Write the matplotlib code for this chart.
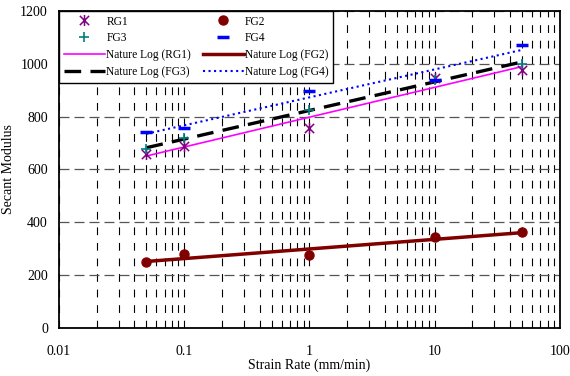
import numpy as np
import matplotlib.pyplot as plt
from matplotlib.path import Path
from matplotlib.ticker import LogLocator, FixedLocator, NullFormatter

plt.rcParams['font.family'] = ['Liberation Serif', 'DejaVu Serif']

# Strain rate (mm/min) and secant modulus for each specimen group
strain_rate = [0.05, 0.1, 1, 10, 50]
rg1 = [660, 690, 758, 947, 978]
fg2 = [248, 279, 275, 343, 363]
fg3 = [678, 717, 823, 940, 1000]
fg4 = [740, 755, 898, 940, 1072]


def log_fit(x, y):
    a, b = np.polyfit(np.log(x), y, 1)
    xs = np.array([min(x), max(x)])
    return xs, a * np.log(xs) + b


# star marker: an x with a vertical stroke through it
star = Path([(-1, -1), (1, 1), (-1, 1), (1, -1), (0, -1.2), (0, 1.2)],
            [Path.MOVETO, Path.LINETO, Path.MOVETO, Path.LINETO, Path.MOVETO, Path.LINETO])

fig, ax = plt.subplots(figsize=(5.7, 3.76), dpi=100)
fig.subplots_adjust(left=0.1035, right=0.982, top=0.971, bottom=0.128)

# markers
h_rg1, = ax.plot(strain_rate, rg1, ls='none', marker=star, color='#800080', mfc='none',
                 ms=8, mew=1.1, label='RG1', zorder=4)
h_fg2, = ax.plot(strain_rate, fg2, 'o', color='#800000', ms=6.5, label='FG2', zorder=4)
h_fg3, = ax.plot(strain_rate, fg3, '+', color='#008080', ms=7, mew=1.2, label='FG3', zorder=4)
h_fg4, = ax.plot(strain_rate, fg4, '_', color='#0000FF', ms=9, mew=2.5, label='FG4', zorder=4)

# logarithmic trend lines
xs, ys = log_fit(strain_rate, rg1)
l_rg1, = ax.plot(xs, ys, '-', color='#FF00FF', lw=1.2, label='Nature Log (RG1)', zorder=3)
xs, ys = log_fit(strain_rate, fg2)
l_fg2, = ax.plot(xs, ys, '-', color='#800000', lw=2.5, label='Nature Log (FG2)', zorder=3)
xs, ys = log_fit(strain_rate, fg3)
l_fg3, = ax.plot(xs, ys, color='black', lw=2.4, dashes=(5, 2.8), label='Nature Log (FG3)', zorder=3)
xs, ys = log_fit(strain_rate, fg4)
l_fg4, = ax.plot(xs, ys, ':', color='#0000FF', lw=1.5, label='Nature Log (FG4)', zorder=3)

ax.set_xscale('log')
ax.set_xlim(0.01, 100)
ax.set_ylim(0, 1200)
ax.xaxis.set_major_locator(FixedLocator([0.01, 0.1, 1, 10, 100]))
ax.xaxis.set_minor_locator(LogLocator(base=10, subs=np.arange(2, 10)))
ax.xaxis.set_minor_formatter(NullFormatter())
ax.set_xticklabels(['0.01', '0.1', '1', '10', '100'])
ax.set_yticks(np.arange(0, 1201, 200))

ax.grid(True, which='both', axis='x', color='black', lw=0.8, linestyle=(0, (7, 7)))
ax.grid(True, which='major', axis='y', color='#555555', lw=0.9, linestyle=(0, (8, 4)))
ax.tick_params(which='both', length=0, labelsize=10)
ax.tick_params(axis='x', pad=12)
ax.tick_params(axis='y', pad=8)

for s in ax.spines.values():
    s.set_linewidth(1.3)

ax.set_xlabel('Strain Rate (mm/min)', fontsize=10, labelpad=1)
ax.set_ylabel('Secant Modulus', fontsize=10, labelpad=4)

# legend filled column by column, so list the left column first
handles = [h_rg1, h_fg3, l_rg1, l_fg3, h_fg2, h_fg4, l_fg2, l_fg4]
ax.legend(handles=handles, labels=[h.get_label() for h in handles], ncol=2,
          loc='upper left', fontsize=8.3, frameon=True, fancybox=False,
          edgecolor='black', framealpha=1, borderaxespad=0, handlelength=3.6,
          handletextpad=0.1, columnspacing=1.0, labelspacing=0.42, borderpad=0.4)

fig.savefig('out.png', dpi=100)
